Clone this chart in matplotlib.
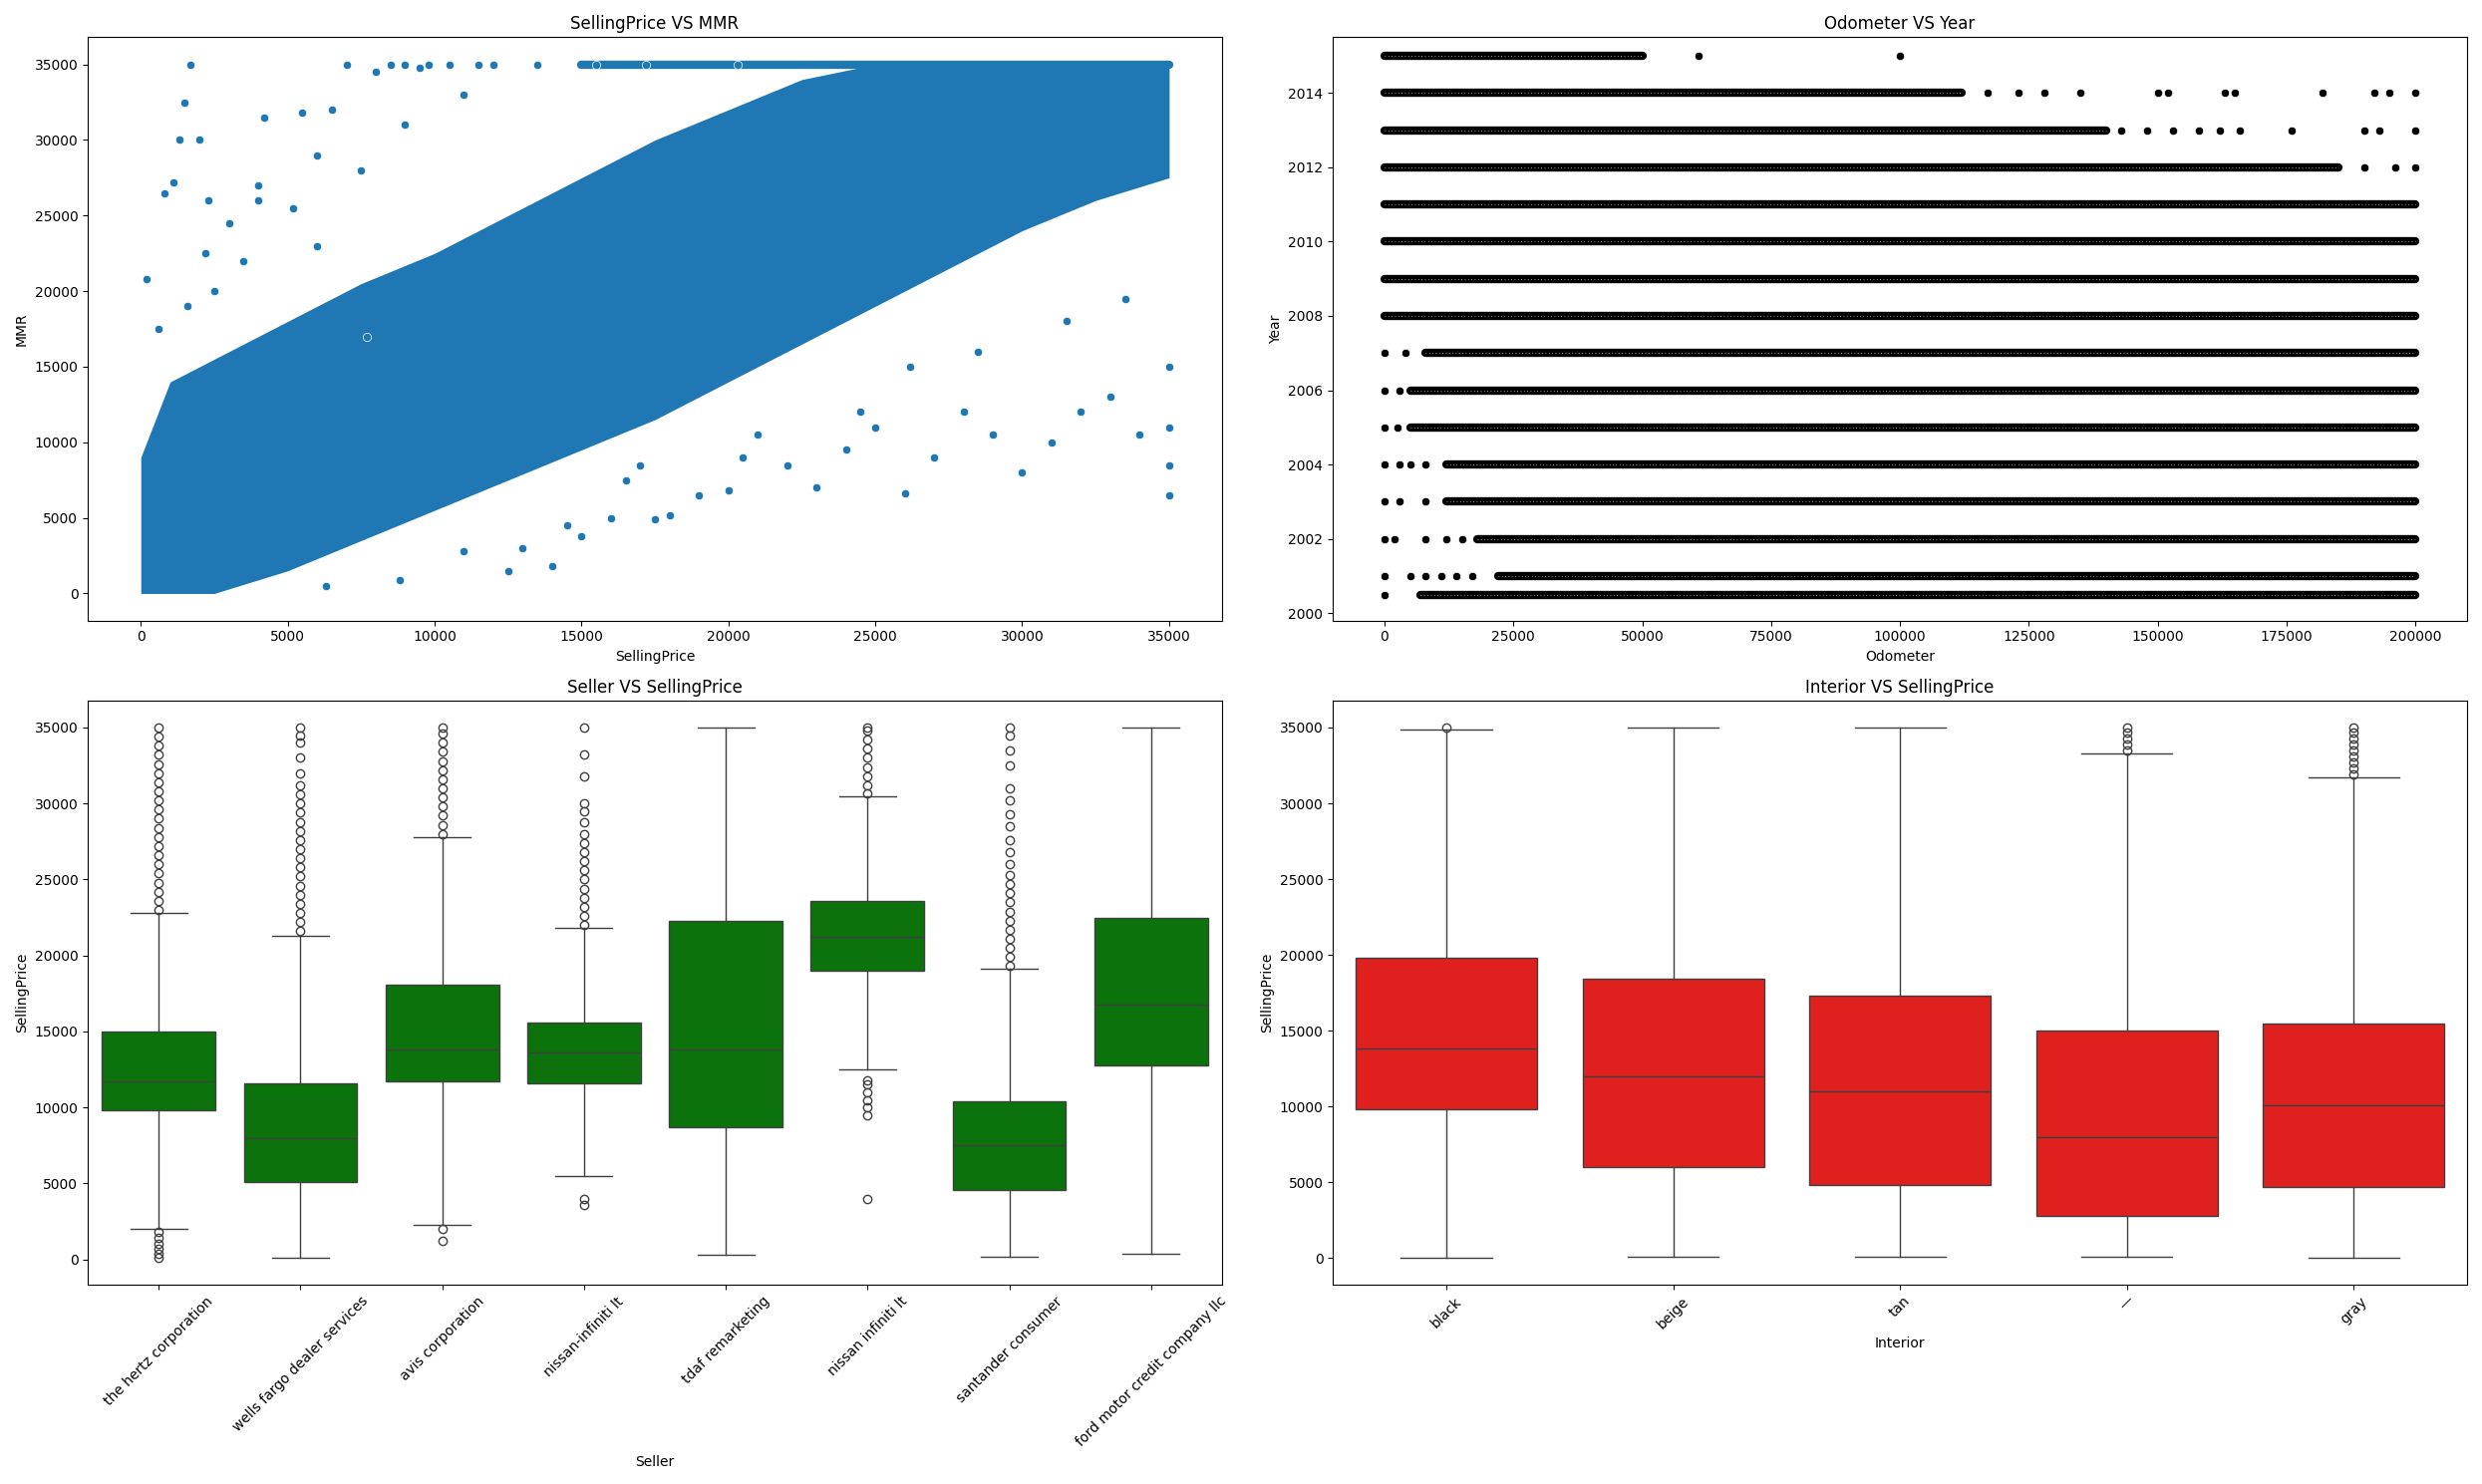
import numpy as np
import matplotlib.pyplot as plt

# ---------------- data ----------------
# SellingPrice vs MMR: main dense band (lower / upper MMR edge by SellingPrice)
band_x = [0, 1000, 2500, 5000, 7500, 10000, 12500, 15000, 17500, 20000, 22500, 25000, 27500, 30000, 32500, 35000]
band_lo = [0, 0, 0, 1500, 3500, 5500, 7500, 9500, 11500, 14000, 16500, 19000, 21500, 24000, 26000, 27500]
band_hi = [9000, 14000, 15500, 18000, 20500, 22500, 25000, 27500, 30000, 32000, 34000, 35000, 35000, 35000, 35000, 35000]
out_x = [200, 600, 800, 1100, 1300, 1500, 1700, 2000, 2200, 2500, 3000, 3500, 4000, 4200, 5200, 5500, 6000, 6500,
         7000, 7500, 8000, 8500, 9000, 9500, 9800, 10500, 11000, 11500, 12000, 12500, 13000, 14000, 14500, 15000,
         16000, 16500, 17000, 17500, 18000, 19000, 20000, 20500, 21000, 22000, 23000, 24000, 25000, 26000, 27000,
         28000, 29000, 30000, 31000, 32000, 33000, 34000, 35000, 35000, 35000, 35000, 4000, 6300, 9000, 12000,
         13500, 15500, 17200, 20300, 24500, 26200, 28500, 31500, 33500, 1600, 2300, 8800, 11000, 6000, 7700]
out_y = [20800, 17500, 26500, 27200, 30000, 32500, 35000, 30000, 22500, 20000, 24500, 22000, 27000, 31500, 25500,
         31800, 29000, 32000, 35000, 28000, 34500, 35000, 31000, 34800, 35000, 35000, 33000, 35000, 35000, 1500,
         3000, 1800, 4500, 3800, 5000, 7500, 8500, 4900, 5200, 6500, 6800, 9000, 10500, 8500, 7000, 9500, 11000,
         6600, 9000, 12000, 10500, 8000, 10000, 12000, 13000, 10500, 6500, 8500, 11000, 15000, 26000, 500, 35000,
         35000, 35000, 35000, 35000, 35000, 12000, 15000, 16000, 18000, 19500, 19000, 26000, 900, 2800, 23000, 17000]
top_x0, top_x1 = 15000, 35000

# Odometer vs Year: dense span per year row plus sparse extra readings
years = [2015, 2014, 2013, 2012, 2011, 2010, 2009, 2008, 2007, 2006, 2005, 2004, 2003, 2002, 2001, 2000.5]
dense_start = [0, 0, 0, 0, 0, 0, 0, 0, 8000, 5000, 5000, 12000, 12000, 18000, 22000, 7000]
dense_end = [50000, 112000, 140000, 185000, 200000, 200000, 200000, 200000, 200000, 200000, 200000, 200000,
             200000, 200000, 200000, 200000]
extra = {
    2015: [61000, 100000],
    2014: [117000, 123000, 128000, 135000, 150000, 152000, 163000, 165000, 182000, 192000, 195000, 200000],
    2013: [143000, 148000, 153000, 158000, 162000, 166000, 176000, 190000, 193000, 200000],
    2012: [190000, 196000, 200000],
    2007: [0, 4000], 2006: [0, 3000], 2005: [0, 2500], 2004: [0, 3000, 5000, 8000],
    2003: [0, 3000, 8000], 2002: [0, 2000, 8000, 12000, 15000], 2001: [0, 5000, 8000, 11000, 14000, 17000],
    2000.5: [0],
}

# Seller vs SellingPrice boxes
sellers = ['the hertz corporation', 'wells fargo dealer services', 'avis corporation', 'nissan-infiniti lt',
           'tdaf remarketing', 'nissan infiniti lt', 'santander consumer', 'ford motor credit company llc']
s_q1 = [9800, 5100, 11700, 11600, 8700, 19000, 4600, 12800]
s_med = [11700, 8000, 13800, 13600, 13800, 21200, 7500, 16800]
s_q3 = [15000, 11600, 18100, 15600, 22300, 23600, 10400, 22500]
s_lo = [2000, 100, 2300, 5500, 300, 12500, 200, 400]
s_hi = [22800, 21300, 27800, 21800, 35000, 30500, 19100, 35000]
s_fliers = [
    [23000, 23600, 24200, 24800, 25400, 26000, 26600, 27200, 27800, 28400, 29000, 29600, 30200, 30800, 31400,
     32000, 32600, 33200, 33800, 34400, 35000, 1800, 1400, 1000, 700, 400, 100],
    [21600, 22200, 22800, 23400, 24000, 24600, 25200, 25800, 26400, 27000, 27600, 28200, 28800, 29400, 30000,
     30600, 31200, 32000, 33000, 34000, 34500, 35000],
    [28000, 28600, 29200, 29800, 30400, 31000, 31600, 32200, 32800, 33400, 34000, 34600, 35000, 2000, 1200],
    [22000, 22600, 23200, 23800, 24400, 25000, 25600, 26200, 26800, 27400, 28000, 28800, 29500, 30000, 31800,
     33200, 35000, 4000, 3600],
    [],
    [30700, 31200, 31800, 32400, 33000, 33600, 34200, 34800, 35000, 11800, 11500, 11000, 10500, 10000, 9500, 4000],
    [19300, 19900, 20500, 21100, 21700, 22300, 22900, 23500, 24100, 24700, 25300, 26000, 26800, 27600, 28500,
     29300, 30200, 31000, 32500, 33500, 34500, 35000],
    [],
]

# Interior vs SellingPrice boxes
interiors = ['black', 'beige', 'tan', '—', 'gray']
i_q1 = [9800, 6000, 4800, 2800, 4700]
i_med = [13800, 12000, 11000, 8000, 10100]
i_q3 = [19800, 18400, 17300, 15000, 15500]
i_lo = [0, 100, 100, 100, 0]
i_hi = [34900, 35000, 35000, 33300, 31700]
i_fliers = [[35000], [], [], [33500, 33900, 34300, 34700, 35000],
            [31900, 32300, 32700, 33100, 33500, 33900, 34300, 34700, 35000]]


def box_plot(ax, labels, q1, med, q3, lo, hi, fliers, color):
    stats = [dict(q1=a, med=b, q3=c, whislo=d, whishi=e, fliers=f)
             for a, b, c, d, e, f in zip(q1, med, q3, lo, hi, fliers)]
    lc = '#3f3f3f'
    ax.bxp(stats, positions=range(len(stats)), widths=0.8, patch_artist=True,
           boxprops=dict(facecolor=color, edgecolor=lc, linewidth=1),
           medianprops=dict(color=lc, linewidth=1),
           whiskerprops=dict(color=lc), capprops=dict(color=lc),
           flierprops=dict(marker='o', markerfacecolor='none', markeredgecolor=lc, markersize=6))
    ax.set_xticks(range(len(labels)))
    ax.set_xticklabels(labels, rotation=45)
    ax.set_xlim(-0.5, len(labels) - 0.5)
    ax.set_ylabel('SellingPrice')


fig, axes = plt.subplots(2, 2, figsize=(24.9, 14.89), dpi=100)

# Top left
ax = axes[0, 0]
blue = '#1f77b4'
ax.fill_between(band_x, band_lo, band_hi, color=blue, linewidth=0)
ax.plot([top_x0, top_x1], [35000, 35000], color=blue, linewidth=6, solid_capstyle='round')
ax.scatter(out_x, out_y, s=36, color=blue, edgecolor='white', linewidth=0.5, zorder=3)
ax.set_title('SellingPrice VS MMR')
ax.set_xlabel('SellingPrice')
ax.set_ylabel('MMR')
ax.set_xlim(-1800, 36800)
ax.set_ylim(-1800, 36800)

# Top right
ax = axes[0, 1]
for yr, a, b in zip(years, dense_start, dense_end):
    ax.plot([a, b], [yr, yr], color='black', linewidth=6, solid_capstyle='round')
    ax.plot([a, b], [yr, yr], color='#bbbbbb', linewidth=0.6, linestyle=(0, (1, 3)))
for yr, xs in extra.items():
    ax.scatter(xs, [yr] * len(xs), s=36, color='black', edgecolor='white', linewidth=0.5, zorder=3)
ax.set_title('Odometer VS Year')
ax.set_xlabel('Odometer')
ax.set_ylabel('Year')
ax.set_xlim(-10000, 210000)
ax.set_yticks(range(2000, 2015, 2))
ax.set_ylim(1999.8, 2015.5)

# Bottom left
ax = axes[1, 0]
box_plot(ax, sellers, s_q1, s_med, s_q3, s_lo, s_hi, s_fliers, '#0c730c')
ax.set_title('Seller VS SellingPrice')
ax.set_xlabel('Seller')

# Bottom right
ax = axes[1, 1]
box_plot(ax, interiors, i_q1, i_med, i_q3, i_lo, i_hi, i_fliers, '#e01f1f')
ax.set_title('Interior VS SellingPrice')
ax.set_xlabel('Interior')

plt.tight_layout()
plt.savefig('out.png', dpi=100)
